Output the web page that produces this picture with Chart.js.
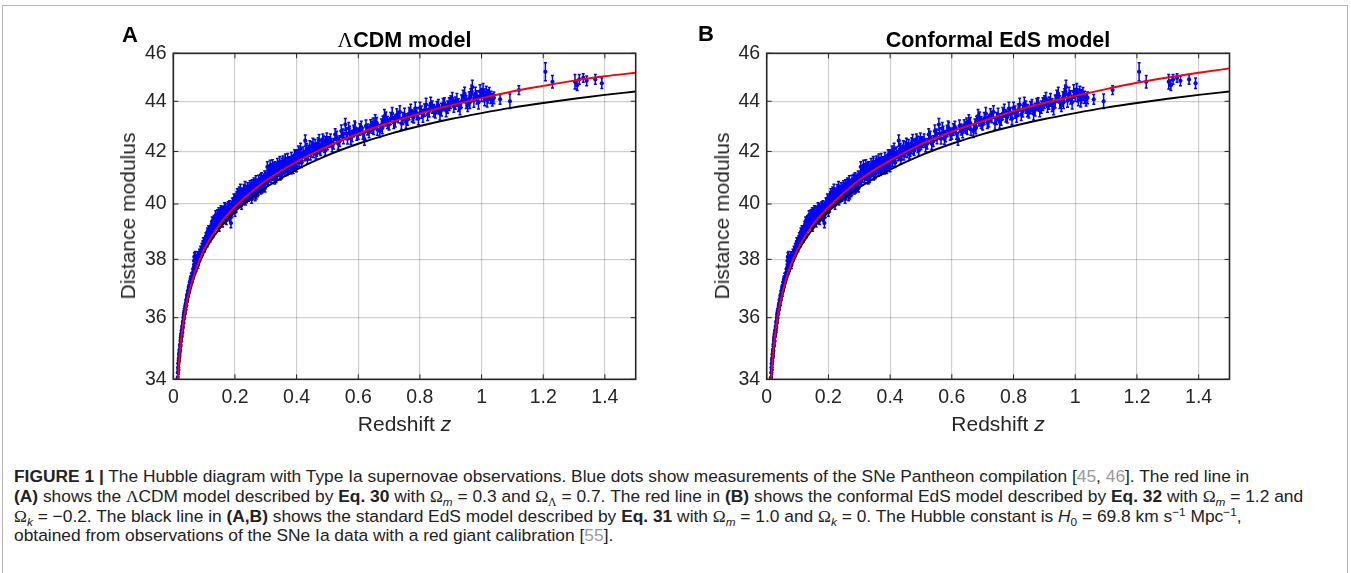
<!DOCTYPE html>
<html>
<head>
<meta charset="utf-8">
<title>Hubble diagram</title>
<script src="https://cdn.jsdelivr.net/npm/chart.js@4.4.1/dist/chart.umd.min.js"></script>
<style>
  body {
    margin: 0;
    width: 1351px;
    height: 573px;
    background: #fff;
    position: relative;
    overflow: hidden;
    font-family: "Liberation Sans", Arial, sans-serif;
    color: #000;
  }
  .frame {
    position: absolute;
    left: 2px;
    top: 5px;
    width: 1344px;
    height: 600px;
    border: 1px solid #b4b4b4;
  }
  canvas { position: absolute; top: 0; }
  .lbl { position: absolute; white-space: nowrap; transform: translate(-50%, -50%); }
  .letter { font-weight: bold; font-size: 22px; }
  .title { font-weight: bold; font-size: 21.5px; }
  .axis { font-size: 21px; color: #262626; }
  .ylab { transform: translate(-50%, -50%) rotate(-90deg); }
  .serif { font-family: "Liberation Serif", "Times New Roman", serif; font-weight: normal; }
  .caption {
    position: absolute;
    left: 14px;
    top: 467px;
    font-size: 16px;
    line-height: 19.8px;
    color: #222;
  }
  .caption div { width: max-content; white-space: nowrap; }
  .caption .ref { color: #9a9a9a; }
  .caption sub, .caption sup { font-size: 68%; line-height: 0; }
  .caption sub { vertical-align: -0.3em; }
  .caption sup { vertical-align: 0.55em; }
</style>
</head>
<body>
<div class="frame"></div>

<canvas id="chartA" width="560" height="450" style="left:100px"></canvas>
<canvas id="chartB" width="560" height="450" style="left:690px"></canvas>

<div class="lbl letter" style="left:130px; top:35px">A</div>
<div class="lbl title" style="left:404.5px; top:40px"><span class="serif">Λ</span>CDM model</div>
<div class="lbl axis ylab" style="left:128px; top:216.3px">Distance modulus</div>
<div class="lbl axis" style="left:404.5px; top:424px">Redshift <i>z</i></div>

<div class="lbl letter" style="left:706px; top:34px">B</div>
<div class="lbl title" style="left:998px; top:40px">Conformal EdS model</div>
<div class="lbl axis ylab" style="left:722px; top:216.3px">Distance modulus</div>
<div class="lbl axis" style="left:998px; top:424px">Redshift <i>z</i></div>

<div class="caption" id="caption">
  <div><b>FIGURE 1 |</b> The Hubble diagram with Type Ia supernovae observations. Blue dots show measurements of the SNe Pantheon compilation [<span class="ref">45</span>, <span class="ref">46</span>]. The red line in</div>
  <div id="capLine2"><b>(A)</b> shows the <span class="serif">Λ</span>CDM model described by <b>Eq. 30</b> with <span class="serif">Ω</span><sub><i>m</i></sub> = 0.3 and <span class="serif">Ω</span><sub><span class="serif">Λ</span></sub> = 0.7. The red line in <b>(B)</b> shows the conformal EdS model described by <b>Eq. 32</b> with <span class="serif">Ω</span><sub><i>m</i></sub> = 1.2 and</div>
  <div><span class="serif">Ω</span><sub><i>k</i></sub> = −0.2. The black line in <b>(A,B)</b> shows the standard EdS model described by <b>Eq. 31</b> with <span class="serif">Ω</span><sub><i>m</i></sub> = 1.0 and <span class="serif">Ω</span><sub><i>k</i></sub> = 0. The Hubble constant is <i>H</i><sub>0</sub> = 69.8 km s<sup>−1</sup> Mpc<sup>−1</sup>,</div>
  <div>obtained from observations of the SNe Ia data with a red giant calibration [<span class="ref">55</span>].</div>
</div>

<script>
// axis ticks
const xTicks = [0, 0.2, 0.4, 0.6, 0.8, 1, 1.2, 1.4];
const yTicks = [34, 36, 38, 40, 42, 44, 46];

// model curves (redshift -> distance modulus)
const modelZ = [0.012, 0.02, 0.03, 0.04, 0.05, 0.07, 0.1, 0.15, 0.2, 0.25, 0.3, 0.4, 0.5,
  0.6, 0.7, 0.8, 0.9, 1.0, 1.1, 1.2, 1.3, 1.4, 1.5];
const lcdmMu = [33.6, 34.75, 35.65, 36.3, 36.8, 37.55, 38.35, 39.25, 39.9, 40.42, 40.87, 41.6, 42.2,
  42.7, 43.13, 43.5, 43.83, 44.13, 44.4, 44.63, 44.85, 45.03, 45.18];
const conformalMu = [33.6, 34.75, 35.65, 36.3, 36.8, 37.55, 38.35, 39.25, 39.88, 40.42, 40.9, 41.65, 42.28,
  42.78, 43.2, 43.6, 43.93, 44.22, 44.5, 44.76, 44.98, 45.18, 45.36];
const edsMu = [33.55, 34.7, 35.6, 36.2, 36.7, 37.45, 38.25, 39.1, 39.72, 40.2, 40.62, 41.3, 41.85,
  42.3, 42.68, 43.0, 43.28, 43.52, 43.74, 43.93, 44.1, 44.26, 44.4];

// Pantheon supernovae: [z, distance modulus, error]
const sneData = [
  [0.0140,34.05,0.14],[0.0150,34.22,0.12],[0.0158,34.38,0.13],[0.0167,34.30,0.14],[0.0175,34.58,0.12],
  [0.0183,34.66,0.13],[0.0190,34.80,0.12],[0.0198,34.72,0.14],[0.0206,34.95,0.12],[0.0214,34.90,0.13],
  [0.0222,35.12,0.12],[0.0231,35.06,0.14],[0.0240,35.28,0.12],[0.0249,35.22,0.13],[0.0258,35.44,0.12],
  [0.0267,35.38,0.14],[0.0276,35.58,0.12],[0.0285,35.52,0.13],[0.0295,35.72,0.12],[0.0305,35.66,0.14],
  [0.0315,35.88,0.12],[0.0325,35.82,0.13],[0.0335,36.02,0.12],[0.0345,35.96,0.14],[0.0356,36.18,0.12],
  [0.0367,36.12,0.13],[0.0378,36.30,0.12],[0.0390,36.26,0.14],[0.0402,36.46,0.12],[0.0415,36.40,0.13],
  [0.0428,36.62,0.12],[0.0441,36.56,0.14],[0.0455,36.78,0.12],[0.0469,36.72,0.13],[0.0484,36.92,0.12],
  [0.0499,36.86,0.14],[0.0515,37.08,0.12],[0.0531,37.02,0.13],[0.0548,37.22,0.12],[0.0565,37.16,0.14],
  [0.0583,37.38,0.13],[0.0601,37.30,0.12],[0.0620,37.52,0.14],[0.0639,37.46,0.13],[0.0659,37.70,0.14],
  [0.0672,37.95,0.16],[0.0685,38.08,0.15],[0.0698,37.62,0.13],[0.0712,38.12,0.16],[0.0726,37.78,0.14],
  [0.0740,37.70,0.13],[0.0755,38.02,0.15],[0.0770,37.86,0.13],[0.0786,37.98,0.14],[0.0802,37.80,0.12],
  [0.0818,38.10,0.14],[0.0835,38.02,0.13],[0.0852,38.22,0.14],[0.0870,38.14,0.12],[0.0888,38.32,0.14],
  [0.0906,38.20,0.13],[0.0925,38.42,0.14],[0.0944,38.36,0.12],[0.0963,38.52,0.14],[0.0983,38.44,0.13],
  [0.0162,34.50,0.13],[0.0202,34.85,0.13],[0.0245,35.35,0.13],[0.0290,35.60,0.13],[0.0340,36.10,0.13],
  [0.0395,36.38,0.13],[0.0450,36.66,0.13],[0.0505,36.98,0.13],[0.0560,37.28,0.13],[0.0610,37.40,0.13],
  [0.0680,37.80,0.14],[0.0730,37.92,0.14],[0.0780,38.12,0.15],[0.0860,38.06,0.13],[0.0930,38.26,0.13],
  [0.0975,38.62,0.15],
  [0.1003,38.62,0.14],[0.1024,38.50,0.13],[0.1045,38.70,0.15],[0.1066,38.62,0.13],[0.1088,38.82,0.14],
  [0.1110,38.70,0.15],[0.1132,38.94,0.14],[0.1155,38.80,0.13],[0.1178,39.02,0.15],[0.1201,38.88,0.14],
  [0.1225,39.12,0.15],[0.1249,38.98,0.13],[0.1273,39.26,0.15],[0.1298,39.06,0.14],[0.1323,39.42,0.16],
  [0.1348,39.16,0.14],[0.1373,39.58,0.17],[0.1399,39.28,0.14],[0.1425,39.48,0.15],[0.1451,39.22,0.13],
  [0.1478,39.70,0.16],[0.1505,39.40,0.14],[0.1532,39.56,0.15],[0.1560,39.32,0.14],[0.1588,39.76,0.16],
  [0.1616,39.50,0.15],[0.1645,39.66,0.14],[0.1674,39.44,0.15],[0.1703,39.86,0.16],[0.1733,39.60,0.14],
  [0.1763,39.76,0.15],[0.1793,39.56,0.14],[0.1824,39.96,0.16],[0.1855,39.72,0.15],[0.1870,39.30,0.17],
  [0.1886,39.86,0.14],[0.1918,40.06,0.16],[0.1950,39.80,0.15],[0.1982,39.96,0.14],[0.2000,39.70,0.15],
  [0.1012,38.40,0.13],[0.1056,38.80,0.15],[0.1099,38.58,0.13],[0.1143,39.05,0.15],[0.1190,38.76,0.14],
  [0.1237,39.20,0.15],[0.1285,38.92,0.14],[0.1335,39.34,0.16],[0.1386,39.50,0.15],[0.1438,39.62,0.17],
  [0.1490,39.14,0.14],[0.1546,39.78,0.16],[0.1602,39.30,0.14],[0.1660,39.88,0.17],[0.1718,39.40,0.15],
  [0.1778,39.92,0.16],[0.1840,39.52,0.15],[0.1902,39.64,0.14],[0.1966,40.20,0.17],[0.1110,38.98,0.14],
  [0.1580,39.62,0.15],[0.1690,39.72,0.15],[0.1810,39.82,0.15],[0.1935,39.92,0.15],[0.1260,39.36,0.16],
  [0.2015,40.16,0.16],[0.2040,39.86,0.15],[0.2065,40.30,0.17],[0.2090,40.02,0.14],[0.2115,40.20,0.16],
  [0.2140,40.46,0.18],[0.2165,40.10,0.15],[0.2190,40.32,0.16],[0.2215,39.96,0.15],[0.2240,40.42,0.17],
  [0.2265,40.22,0.16],[0.2290,40.56,0.17],[0.2315,40.30,0.15],[0.2340,40.12,0.16],[0.2365,40.52,0.17],
  [0.2390,40.36,0.15],[0.2415,40.62,0.18],[0.2440,40.26,0.16],[0.2465,40.46,0.15],[0.2490,40.70,0.17],
  [0.2515,40.40,0.16],[0.2540,40.18,0.15],[0.2565,40.62,0.17],[0.2590,40.50,0.16],[0.2615,40.80,0.18],
  [0.2640,40.46,0.15],[0.2665,40.66,0.16],[0.2690,40.36,0.17],[0.2715,40.76,0.16],[0.2740,40.56,0.15],
  [0.2765,40.90,0.18],[0.2790,40.60,0.16],[0.2815,40.80,0.17],[0.2840,40.52,0.15],[0.2865,41.00,0.18],
  [0.2890,40.72,0.16],[0.2915,40.90,0.17],[0.2940,40.62,0.15],[0.2965,41.06,0.18],[0.2990,40.80,0.16],
  [0.2028,40.02,0.15],[0.2078,40.40,0.17],[0.2128,40.06,0.15],[0.2178,40.56,0.18],[0.2228,40.18,0.15],
  [0.2278,40.36,0.16],[0.2328,40.66,0.18],[0.2378,40.20,0.15],[0.2428,40.44,0.16],[0.2478,40.32,0.15],
  [0.2528,40.56,0.17],[0.2578,40.34,0.15],[0.2628,40.60,0.16],[0.2678,40.88,0.18],[0.2728,40.42,0.15],
  [0.2778,40.72,0.16],[0.2828,40.94,0.18],[0.2878,40.56,0.15],[0.2928,40.78,0.16],[0.2978,40.60,0.15],
  [0.2555,40.74,0.17],[0.2655,40.28,0.16],[0.2755,40.48,0.16],[0.2855,40.68,0.16],[0.2955,40.96,0.17],
  [0.3020,41.02,0.17],[0.3050,41.40,0.20],[0.3080,40.86,0.16],[0.3110,41.16,0.18],[0.3140,41.46,0.20],
  [0.3170,40.96,0.16],[0.3200,41.22,0.17],[0.3230,41.06,0.18],[0.3260,41.36,0.19],[0.3290,40.92,0.17],
  [0.3320,41.30,0.18],[0.3350,41.16,0.16],[0.3380,41.52,0.20],[0.3410,41.20,0.17],[0.3440,41.40,0.18],
  [0.3470,41.06,0.16],[0.3500,41.46,0.19],[0.3530,41.30,0.17],[0.3560,41.62,0.20],[0.3590,41.36,0.18],
  [0.3620,41.20,0.16],[0.3650,41.56,0.19],[0.3680,41.40,0.17],[0.3710,41.72,0.20],[0.3740,41.30,0.18],
  [0.3770,41.60,0.19],[0.3800,41.46,0.17],[0.3830,41.76,0.20],[0.3860,41.50,0.18],[0.3890,41.32,0.17],
  [0.3920,41.66,0.19],[0.3950,41.54,0.18],[0.3980,41.82,0.20],
  [0.3035,40.90,0.17],[0.3095,41.26,0.18],[0.3155,41.10,0.17],[0.3215,41.48,0.20],[0.3275,41.16,0.17],
  [0.3335,40.98,0.17],[0.3395,41.34,0.18],[0.3455,41.60,0.20],[0.3515,41.12,0.17],[0.3575,41.46,0.18],
  [0.3635,41.70,0.20],[0.3695,41.24,0.17],[0.3755,41.50,0.18],[0.3815,41.30,0.17],[0.3875,41.66,0.19],
  [0.3935,41.86,0.20],[0.3995,41.40,0.18],[0.3060,41.10,0.17],[0.3180,41.32,0.18],[0.3300,41.42,0.18],
  [0.3420,41.28,0.17],[0.3540,41.54,0.19],[0.3660,41.46,0.18],[0.3780,41.38,0.18],[0.3900,41.58,0.19],
  [0.4030,41.86,0.20],[0.4080,41.60,0.18],[0.4130,42.10,0.22],[0.4180,41.76,0.19],[0.4280,42.42,0.22],
  [0.4310,41.90,0.20],[0.4350,41.70,0.18],[0.4400,42.02,0.21],[0.4450,41.86,0.19],[0.4500,42.16,0.22],
  [0.4550,41.96,0.20],[0.4600,42.26,0.21],[0.4650,42.00,0.19],[0.4700,42.32,0.22],[0.4750,42.10,0.20],
  [0.4800,42.22,0.21],[0.4850,42.46,0.22],[0.4900,42.16,0.20],[0.4950,42.36,0.21],[0.5000,42.26,0.20],
  [0.4010,41.70,0.19],[0.4060,42.00,0.21],[0.4110,41.80,0.19],[0.4160,41.56,0.18],[0.4210,41.96,0.21],
  [0.4260,41.84,0.20],[0.4330,42.10,0.21],[0.4380,41.88,0.20],[0.4430,42.20,0.22],[0.4480,41.98,0.20],
  [0.4530,42.30,0.22],[0.4580,42.06,0.20],[0.4630,41.90,0.19],[0.4680,42.14,0.21],[0.4730,42.44,0.22],
  [0.4780,42.04,0.20],[0.4830,42.30,0.21],[0.4880,42.38,0.22],[0.4930,42.04,0.20],[0.4980,42.50,0.22],
  [0.5100,42.46,0.22],[0.5200,42.30,0.21],[0.5300,42.56,0.23],[0.5400,42.40,0.21],[0.5500,42.66,0.22],
  [0.5580,43.06,0.24],[0.5650,42.50,0.21],[0.5720,42.76,0.23],[0.5800,42.60,0.22],[0.5900,42.90,0.24],
  [0.6000,42.70,0.22],[0.6100,42.96,0.23],[0.6200,42.48,0.24],[0.6300,42.86,0.22],[0.6400,43.02,0.23],
  [0.6500,42.90,0.24],[0.6600,43.12,0.22],[0.6700,42.80,0.25],[0.6800,43.16,0.23],[0.6900,43.32,0.24],
  [0.5050,42.36,0.21],[0.5150,42.20,0.21],[0.5250,42.66,0.23],[0.5350,42.30,0.22],[0.5450,42.80,0.24],
  [0.5520,42.52,0.22],[0.5610,42.70,0.23],[0.5690,42.90,0.24],[0.5760,42.50,0.22],[0.5850,42.80,0.23],
  [0.5950,42.66,0.22],[0.6050,42.86,0.23],[0.6150,42.70,0.22],[0.6250,43.00,0.24],[0.6350,42.76,0.22],
  [0.6450,42.94,0.23],[0.6550,43.20,0.25],[0.6620,42.86,0.23],[0.6750,43.04,0.24],[0.6850,43.40,0.26],
  [0.6950,43.14,0.24],[0.6780,42.92,0.23],[0.6480,43.08,0.24],[0.5880,42.96,0.24],[0.6880,43.24,0.24],
  [0.7000,43.06,0.22],[0.7100,43.50,0.25],[0.7200,43.20,0.24],[0.7300,43.36,0.23],[0.7400,43.10,0.24],
  [0.7500,43.46,0.25],[0.7600,43.26,0.23],[0.7700,43.62,0.26],[0.7800,43.36,0.24],[0.7900,43.50,0.25],
  [0.8000,43.72,0.24],[0.8100,43.40,0.25],[0.8200,43.86,0.26],[0.8300,43.60,0.24],[0.8400,43.76,0.25],
  [0.8500,43.56,0.24],[0.8600,43.82,0.25],[0.8700,43.66,0.26],[0.8800,43.90,0.24],[0.8900,43.76,0.25],
  [0.7050,43.30,0.24],[0.7150,43.14,0.24],[0.7250,43.44,0.25],[0.7350,43.56,0.26],[0.7450,43.30,0.24],
  [0.7550,43.16,0.25],[0.7650,43.50,0.25],[0.7750,43.40,0.24],[0.7850,43.70,0.26],[0.7950,43.30,0.25],
  [0.8050,43.56,0.25],[0.8150,43.64,0.25],[0.8250,43.46,0.24],[0.8350,43.90,0.26],[0.8450,43.62,0.25],
  [0.8550,43.74,0.25],[0.8650,43.50,0.26],[0.8750,43.86,0.25],[0.8850,43.62,0.25],[0.8950,43.88,0.26],
  [0.9000,43.96,0.26],[0.9100,43.80,0.25],[0.9200,44.06,0.26],[0.9300,43.72,0.27],[0.9400,44.20,0.25],
  [0.9500,43.96,0.26],[0.9600,44.12,0.27],[0.9700,44.58,0.28],[0.9750,44.02,0.26],[0.9800,44.30,0.27],
  [0.9900,43.96,0.28],[1.0000,44.26,0.26],[1.0050,44.46,0.27],[1.0100,44.10,0.28],[1.0150,44.36,0.26],
  [1.0200,44.20,0.27],[1.0300,44.16,0.25],[1.0400,44.14,0.24],
  [0.9050,44.10,0.26],[0.9150,43.92,0.25],[0.9250,43.84,0.26],[0.9350,44.00,0.26],[0.9450,44.30,0.27],
  [0.9550,43.84,0.26],[0.9650,44.24,0.27],[0.9850,44.16,0.27],[0.9950,44.40,0.28],[1.0080,44.24,0.26],
  [1.0180,44.04,0.27],[1.0250,44.30,0.26],[1.0350,44.06,0.25],[0.9680,44.40,0.27],[0.9620,43.96,0.26],
  [1.0600,44.08,0.20],[1.0920,44.00,0.30],[1.1210,44.46,0.18],[1.2070,45.22,0.38],[1.2300,44.80,0.26],
  [1.3030,44.80,0.30],[1.3100,44.66,0.22],[1.3170,44.90,0.20],[1.3300,44.96,0.18],[1.3410,44.84,0.20],
  [1.3690,44.90,0.20],[1.3900,44.74,0.22]
];

const tickFont = { family: "Liberation Sans", size: 19.5 };
const gridColor = "rgba(0,0,0,0.19)";

// vertical error bars under the blue dots
const errorBars = {
  id: "errorBars",
  beforeDatasetDraw(chart, args) {
    const ds = chart.data.datasets[args.index];
    if (!ds.errors) return;
    const { ctx, chartArea: a, scales: { x, y } } = chart;
    ctx.save();
    ctx.beginPath();
    ctx.rect(a.left, a.top, a.width, a.height);
    ctx.clip();
    ctx.strokeStyle = ds.backgroundColor;
    ctx.lineWidth = 1.5;
    ctx.beginPath();
    ds.data.forEach((p, i) => {
      const px = x.getPixelForValue(p.x);
      const top = y.getPixelForValue(p.y + ds.errors[i]);
      const bot = y.getPixelForValue(p.y - ds.errors[i]);
      ctx.moveTo(px, top);
      ctx.lineTo(px, bot);
      ctx.moveTo(px - 1.5, top);
      ctx.lineTo(px + 1.5, top);
      ctx.moveTo(px - 1.5, bot);
      ctx.lineTo(px + 1.5, bot);
    });
    ctx.stroke();
    ctx.restore();
  },
};

// matlab style box with inward ticks on all four sides
const axesBox = {
  id: "axesBox",
  afterDraw(chart) {
    const { ctx, chartArea: a, scales: { x, y } } = chart;
    const len = 5;
    ctx.save();
    ctx.strokeStyle = "#262626";
    ctx.lineWidth = 1;
    ctx.beginPath();
    xTicks.forEach((v) => {
      const px = x.getPixelForValue(v);
      ctx.moveTo(px, a.bottom);
      ctx.lineTo(px, a.bottom - len);
      ctx.moveTo(px, a.top);
      ctx.lineTo(px, a.top + len);
    });
    yTicks.forEach((v) => {
      const py = y.getPixelForValue(v);
      ctx.moveTo(a.left, py);
      ctx.lineTo(a.left + len, py);
      ctx.moveTo(a.right, py);
      ctx.lineTo(a.right - len, py);
    });
    ctx.stroke();
    ctx.lineWidth = 1.6;
    ctx.strokeRect(a.left, a.top, a.width, a.height);
    ctx.restore();
  },
};

function curve(mu) {
  return modelZ.map((z, i) => ({ x: z, y: mu[i] }));
}

function makePanel(canvasId, redMu, yAxisWidth, rightPad) {
  new Chart(document.getElementById(canvasId), {
    type: "scatter",
    data: {
      datasets: [
        {
          data: curve(redMu),
          showLine: true,
          borderColor: "#ff0000",
          borderWidth: 1.9,
          pointRadius: 0,
          cubicInterpolationMode: "monotone",
          clip: 0,
          order: 1,
        },
        {
          data: curve(edsMu),
          showLine: true,
          borderColor: "#000000",
          borderWidth: 1.9,
          pointRadius: 0,
          cubicInterpolationMode: "monotone",
          clip: 0,
          order: 2,
        },
        {
          data: sneData.map((d) => ({ x: d[0], y: d[1] })),
          errors: sneData.map((d) => d[2]),
          backgroundColor: "#0000ff",
          borderWidth: 0,
          pointRadius: 2.1,
          clip: 0,
          order: 3,
        },
      ],
    },
    options: {
      responsive: false,
      animation: false,
      events: [],
      layout: { padding: { left: 0, top: 53.3, right: rightPad, bottom: 0 } },
      plugins: {
        legend: { display: false },
        tooltip: { enabled: false },
      },
      scales: {
        x: {
          type: "linear",
          min: 0,
          max: 1.5,
          afterBuildTicks: (s) => { s.ticks = xTicks.map((v) => ({ value: v })); },
          afterFit: (s) => { s.height = 70.7; },
          grid: { color: gridColor, lineWidth: 1.2, drawTicks: false },
          border: { display: false },
          ticks: {
            padding: 7,
            color: "#262626",
            font: tickFont,
            maxRotation: 0,
            autoSkip: false,
            callback: (v) => String(v),
          },
        },
        y: {
          type: "logarithmic",
          min: 34,
          max: 46,
          afterBuildTicks: (s) => { s.ticks = yTicks.map((v) => ({ value: v })); },
          afterFit: (s) => { s.width = yAxisWidth; },
          grid: { color: gridColor, lineWidth: 1.2, drawTicks: false },
          border: { display: false },
          ticks: {
            padding: 6.6,
            color: "#262626",
            font: tickFont,
            autoSkip: false,
            callback: (v) => String(v),
          },
        },
      },
    },
    plugins: [errorBars, axesBox],
  });
}

makePanel("chartA", lcdmMu, 73.3, 24.3);
makePanel("chartB", conformalMu, 76.7, 20.5);

// size the caption so its second line is as wide as the printed one
const capWidth = document.getElementById("capLine2").getBoundingClientRect().width;
document.getElementById("caption").style.fontSize = (16 * 1290) / capWidth + "px";
</script>
</body>
</html>
